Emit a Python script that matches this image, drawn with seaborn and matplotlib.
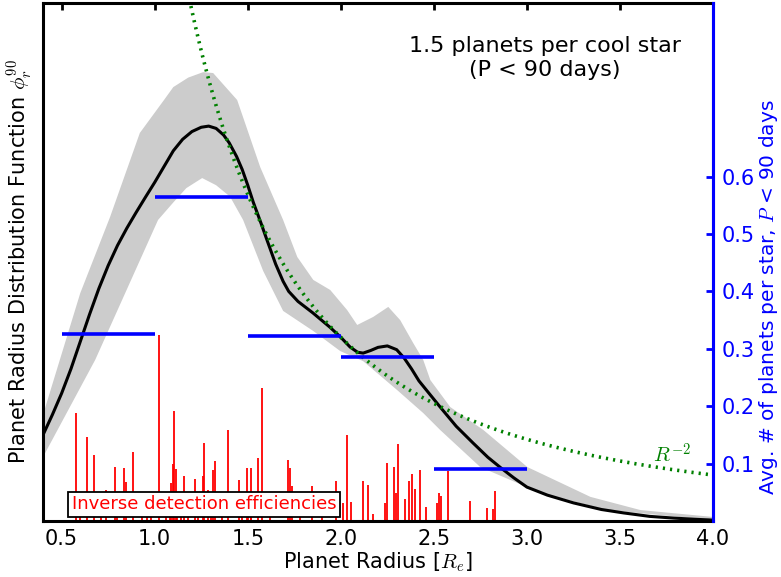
import numpy as np
import pandas as pd
import matplotlib
matplotlib.use("Agg")
import matplotlib.pyplot as plt
import seaborn as sns

# ---- data ----
radius = [0.40, 0.45, 0.50, 0.55, 0.60, 0.65, 0.70, 0.75, 0.80, 0.85, 0.90, 0.95,
          1.00, 1.05, 1.10, 1.15, 1.20, 1.25, 1.29, 1.33, 1.37, 1.40, 1.44, 1.47,
          1.50, 1.53, 1.57, 1.60, 1.65, 1.69, 1.72, 1.77, 1.85, 1.94, 2.00, 2.05,
          2.09, 2.12, 2.16, 2.20, 2.25, 2.30, 2.34, 2.38, 2.42, 2.48, 2.53, 2.62,
          2.71, 2.79, 2.86, 2.93, 3.00, 3.11, 3.25, 3.40, 3.52, 3.66, 3.79, 3.90, 4.00]
phi = [0.300, 0.370, 0.445, 0.530, 0.625, 0.720, 0.810, 0.890, 0.960, 1.020, 1.075,
       1.128, 1.180, 1.235, 1.290, 1.330, 1.357, 1.372, 1.376, 1.368, 1.345, 1.318,
       1.270, 1.225, 1.170, 1.110, 1.040, 0.985, 0.895, 0.835, 0.800, 0.765, 0.725,
       0.676, 0.640, 0.606, 0.588, 0.585, 0.594, 0.605, 0.610, 0.597, 0.568, 0.530,
       0.488, 0.440, 0.400, 0.330, 0.272, 0.222, 0.185, 0.150, 0.118, 0.090, 0.063,
       0.040, 0.028, 0.016, 0.010, 0.006, 0.003]

band_up_r = [0.40, 0.49, 0.60, 0.76, 0.92, 1.05, 1.10, 1.18, 1.26, 1.314, 1.443, 1.567,
             1.69, 1.766, 1.852, 1.943, 2.034, 2.088, 2.174, 2.255, 2.319, 2.389, 2.443,
             2.481, 2.588, 2.766, 3.002, 3.341, 3.61, 4.0]
band_up = [0.37, 0.561, 0.794, 1.059, 1.352, 1.467, 1.512, 1.545, 1.564, 1.561, 1.467,
           1.233, 1.049, 0.920, 0.840, 0.805, 0.735, 0.683, 0.711, 0.746, 0.700, 0.620,
           0.561, 0.491, 0.397, 0.317, 0.188, 0.084, 0.038, 0.014]

band_lo_r = [0.40, 0.68, 1.018, 1.10, 1.17, 1.255, 1.33, 1.405, 1.475, 1.583, 1.69,
             1.852, 1.997, 2.12, 2.303, 2.443, 2.534, 2.749, 3.072, 3.432, 4.0]
band_lo = [0.223, 0.561, 1.049, 1.11, 1.16, 1.195, 1.17, 1.13, 1.049, 0.871, 0.732,
           0.662, 0.592, 0.557, 0.456, 0.376, 0.317, 0.188, 0.098, 0.038, 0.003]

bin_edges = [0.5, 1.0, 1.5, 2.0, 2.5, 3.0]
bin_counts = [0.326, 0.564, 0.322, 0.286, 0.091]

det_r = [0.576, 0.635, 0.676, 0.739, 0.787, 0.834, 0.845, 0.884, 1.024, 1.087,
         1.097, 1.104, 1.113, 1.156, 1.216, 1.258, 1.264, 1.285, 1.314, 1.325,
         1.396, 1.455, 1.495, 1.517, 1.554, 1.576, 1.716, 1.726, 1.737, 1.846,
         1.975, 2.013, 2.034, 2.056, 2.118, 2.147, 2.174, 2.237, 2.246, 2.285,
         2.296, 2.307, 2.346, 2.366, 2.385, 2.396, 2.425, 2.458, 2.517, 2.525,
         2.536, 2.577, 2.696, 2.785, 2.816, 2.826,
         0.60, 0.71, 0.80, 0.93, 0.96, 0.98, 1.06, 1.08, 1.12, 1.14,
         1.18, 1.23, 1.30, 1.36, 1.47, 1.50, 1.52, 1.62, 1.78, 1.90]
det_h = [0.377, 0.293, 0.230, 0.108, 0.188, 0.185, 0.136, 0.240, 0.648, 0.132,
         0.199, 0.383, 0.181, 0.157, 0.146, 0.157, 0.272, 0.108, 0.178, 0.209,
         0.317, 0.143, 0.185, 0.185, 0.220, 0.463, 0.213, 0.185, 0.122, 0.122,
         0.139, 0.063, 0.300, 0.066, 0.139, 0.125, 0.024, 0.064, 0.202, 0.188,
         0.099, 0.268, 0.077, 0.139, 0.164, 0.111, 0.178, 0.050, 0.064, 0.098,
         0.087, 0.174, 0.071, 0.045, 0.043, 0.105,
         0.05, 0.06, 0.04, 0.07, 0.05, 0.08, 0.06, 0.07, 0.05, 0.06,
         0.04, 0.05, 0.06, 0.04, 0.07, 0.05, 0.06, 0.04, 0.05, 0.04]

r2_norm = 2.56          # normalisation of the R^-2 reference curve
x_ticks = [0.5, 1.0, 1.5, 2.0, 2.5, 3.0, 3.5, 4.0]
right_ticks = [0.1, 0.2, 0.3, 0.4, 0.5, 0.6]

# ---- style ----
sns.set_style("white")
plt.rcParams["font.family"] = ["DejaVu Sans"]
plt.rcParams["mathtext.fontset"] = "cm"
plt.rcParams["text.color"] = "black"
plt.rcParams["axes.labelcolor"] = "black"
plt.rcParams["xtick.color"] = "black"
plt.rcParams["ytick.color"] = "black"

fig = plt.figure(figsize=(7.81, 5.77), dpi=100)
ax = fig.add_axes([0.0551, 0.0971, 0.8579, 0.8977])

# uncertainty band
poly_x = np.r_[band_up_r, band_lo_r[::-1]]
poly_y = np.r_[band_up, band_lo[::-1]]
ax.fill(poly_x, poly_y, color="#cccccc", lw=0, zorder=1)

# inverse detection efficiencies
ax.vlines(det_r, 0, det_h, color="red", lw=1.3, zorder=2)

# distribution function
df = pd.DataFrame({"R": radius, "phi": phi})
sns.lineplot(data=df, x="R", y="phi", ax=ax, color="black", lw=2.2,
             sort=False, estimator=None, zorder=4)

# R^-2 reference
rr = np.linspace(1.1, 4.0, 300)
ax.plot(rr, r2_norm / rr ** 2, linestyle=(0, (0.6, 1.4)), color="green",
        lw=2.6, zorder=5)
ax.text(3.782, 0.23, r"$R^{-2}$", color="green", fontsize=15,
        ha="center", va="center")

ax.text(0.749, 0.894, "1.5 planets per cool star\n(P < 90 days)",
        transform=ax.transAxes, ha="center", va="center", fontsize=16,
        multialignment="center", color="black")

ax.text(0.24, 0.032, "Inverse detection efficiencies", transform=ax.transAxes,
        color="red", fontsize=13, ha="center", va="center", zorder=10,
        bbox=dict(facecolor="white", edgecolor="black", lw=1.3,
                  boxstyle="square,pad=0.2"))

ax.set_xlim(0.4, 4.0)
ax.set_ylim(0, 1.805)
ax.set_yticks([])
ax.set_xticks(x_ticks)
ax.set_xticklabels([f"{t:.1f}" for t in x_ticks])
ax.tick_params(axis="x", direction="in", length=5, width=2, top=True,
               labelsize=15, pad=6, colors="black")
ax.set_xlabel(r"Planet Radius [$R_e$]", fontsize=15, labelpad=1, color="black")
ax.set_ylabel(r"Planet Radius Distribution Function $\phi_r^{90}$", fontsize=15,
              labelpad=6, color="black")
for s in ax.spines.values():
    s.set_linewidth(2.2)
    s.set_color("black")

ax2 = ax.twinx()
ax2.hlines(bin_counts, bin_edges[:-1], bin_edges[1:], color="blue", lw=2.6,
           zorder=6)
ax2.set_ylim(0, 0.9025)
ax2.set_yticks(right_ticks)
ax2.set_yticklabels([f"{t:.1f}" for t in right_ticks])
ax2.tick_params(axis="y", direction="in", length=5, width=2, colors="blue",
                labelsize=15, pad=6)
ax2.set_ylabel(r"Avg. # of planets per star, $P$ < 90 days", fontsize=14.5,
               color="blue")
ax2.yaxis.set_label_coords(1.066, 0.432)
for name, s in ax2.spines.items():
    s.set_linewidth(2.2)
    s.set_color("blue" if name == "right" else "black")
ax2.spines["left"].set_visible(False)
ax2.spines["top"].set_visible(False)
ax2.spines["bottom"].set_visible(False)
ax2.grid(False)
ax.grid(False)

fig.savefig("out.png", dpi=100)
